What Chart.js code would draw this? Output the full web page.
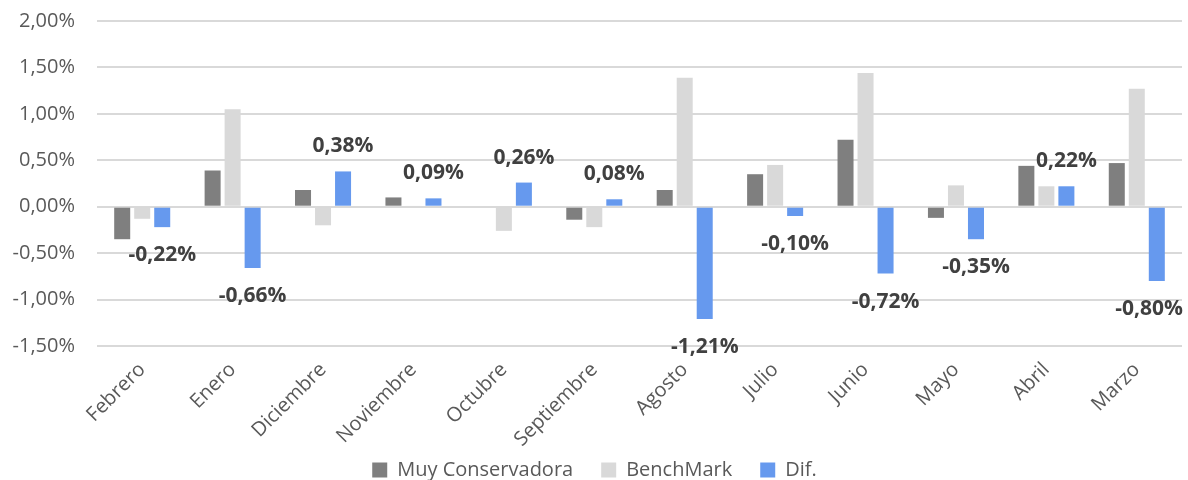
<!DOCTYPE html>
<html>
<head>
<meta charset="utf-8">
<script src="https://cdn.jsdelivr.net/npm/chart.js@4"></script>
<style>
  html, body { margin: 0; padding: 0; background: #fff; }
  #wrap { width: 1188px; height: 480px; }
</style>
</head>
<body>
<div id="wrap"><canvas id="chart"></canvas></div>
<script>
const meses = ["Febrero", "Enero", "Diciembre", "Noviembre", "Octubre", "Septiembre", "Agosto", "Julio", "Junio", "Mayo", "Abril", "Marzo"];
const muyConservadora = [-0.35, 0.39, 0.18, 0.10, 0.00, -0.14, 0.18, 0.35, 0.72, -0.12, 0.44, 0.47];
const benchMark = [-0.13, 1.05, -0.20, 0.01, -0.26, -0.22, 1.39, 0.45, 1.44, 0.23, 0.22, 1.27];
const dif = [-0.22, -0.66, 0.38, 0.09, 0.26, 0.08, -1.21, -0.10, -0.72, -0.35, 0.22, -0.80];

const fmt = v => v.toFixed(2).replace(".", ",") + "%";

// etiquetas de la serie Dif. (fuera del extremo de la barra)
const difLabels = {
  id: "difLabels",
  afterDatasetsDraw(chart) {
    let ctx = chart.ctx;
    let meta = chart.getDatasetMeta(2);
    ctx.save();
    ctx.font = "bold 21px 'Open Sans'";
    ctx.fillStyle = "#404040";
    ctx.textAlign = "center";
    ctx.textBaseline = "middle";
    meta.data.forEach((bar, i) => {
      let v = dif[i];
      let txt = fmt(v);
      let w = ctx.measureText(txt).width;
      let x = Math.min(bar.x, chart.width - 5 - w / 2);
      let y = v >= 0 ? bar.y - 25 : bar.y + 28;
      ctx.fillText(txt, x, y);
    });
    ctx.restore();
  }
};

new Chart(document.getElementById("chart"), {
  type: "bar",
  data: {
    labels: meses,
    datasets: [
      { label: "Muy Conservadora", data: muyConservadora, backgroundColor: "#7f7f7f" },
      { label: "BenchMark", data: benchMark, backgroundColor: "#d9d9d9" },
      { label: "Dif.", data: dif, backgroundColor: "#6699ee" }
    ]
  },
  options: {
    responsive: true,
    maintainAspectRatio: false,
    animation: false,
    categoryPercentage: 0.664,
    barPercentage: 0.8,
    layout: { padding: { left: 7, right: 6, top: 21, bottom: -10 } },
    plugins: {
      legend: {
        position: "bottom",
        labels: {
          boxWidth: 15,
          boxHeight: 15,
          padding: 28,
          color: "#595959",
          font: { family: "'Open Sans'", size: 20 }
        }
      },
      tooltip: { enabled: false }
    },
    scales: {
      x: {
        grid: { display: false },
        border: { display: false },
        ticks: {
          color: "#595959",
          font: { family: "'Open Sans'", size: 20 },
          maxRotation: 45,
          minRotation: 45,
          padding: 4
        },
        afterFit: s => {
          s.height = 86;
          // no recortar las etiquetas largas al alto del eje
          s._computeLabelArea = () => undefined;
        }
      },
      y: {
        min: -1.5,
        max: 2,
        grid: { color: "#d9d9d9", lineWidth: 2, drawTicks: false },
        border: { display: false },
        ticks: {
          stepSize: 0.5,
          color: "#595959",
          font: { family: "'Open Sans'", size: 20 },
          padding: 22,
          callback: v => fmt(v)
        },
        afterFit: s => { s.width = 90; s.paddingTop = 0; s.paddingBottom = 0; }
      }
    }
  },
  plugins: [difLabels]
});
</script>
</body>
</html>
